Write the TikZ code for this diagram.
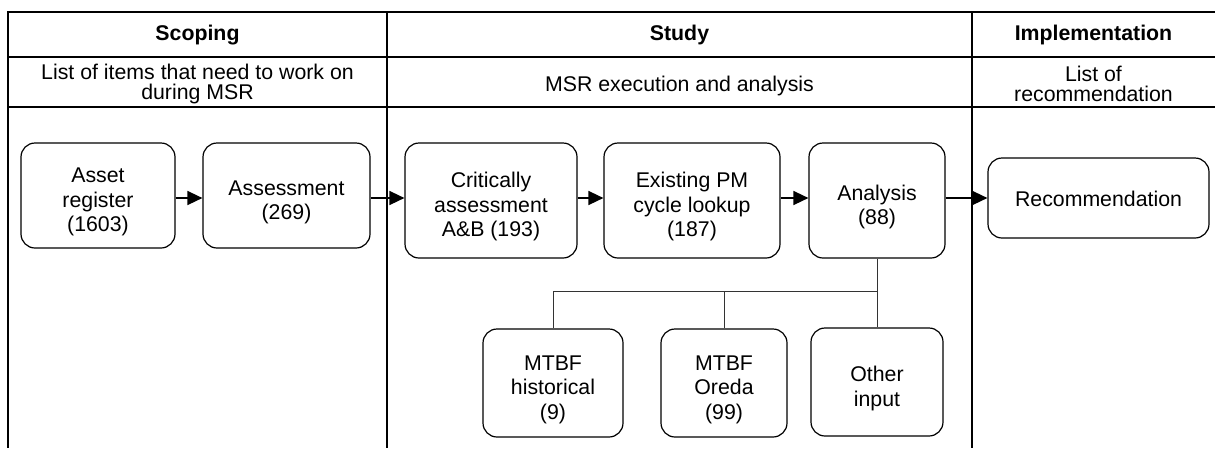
\documentclass[tikz,border=0pt]{standalone}
\usepackage{fontspec}
\setmainfont{Liberation Sans}
\usetikzlibrary{arrows.meta}
\newcommand\bxfont{\fontsize{21.3}{24.5}\selectfont}
\newcommand\hdfont{\fontsize{21.3}{19.5}\selectfont}
\newcommand\tstrut{\rule{0pt}{28pt}}
\newcommand\sstrut{\rule{0pt}{18pt}}
\begin{document}
\begin{tikzpicture}[x=1pt,y=-1pt,
  frame/.style={line width=2pt},
  box/.style={draw, line width=1.2pt, rounded corners=14pt, align=center, inner sep=2pt, font=\bxfont},
  head/.style={align=center, inner sep=0pt, font=\hdfont\bfseries},
  sub/.style={align=center, inner sep=0pt, font=\hdfont},
  arr/.style={line width=1.5pt, -{Triangle[length=15pt,width=14pt]}},
  conn/.style={line width=1pt, draw=black!80}]
\useasboundingbox (0,0) rectangle (1215,448);
% frame
\draw[frame] (1215,12) -- (8,12) -- (8,448);
\draw[frame] (8,57) -- (1215,57);
\draw[frame] (8,107) -- (1215,107);
\draw[frame] (387,12) -- (387,448);
\draw[frame] (972,12) -- (972,448);
% headers
\node[head] (h1) at (197.5,35) {Scoping};
\node[head] (h2) at (679.5,35) {Study};
\node[head] (h3) at (1093.5,35) {Implementation};
\node[sub] (s1) at (197.5,84) {List of items that need to work on\\during MSR};
\node[sub] (s2) at (679.5,86) {MSR execution and analysis};
\node[sub] (s3) at (1093.5,84) {List of\\recommendation};
% boxes
\node[box, minimum width=154pt, minimum height=105pt] (ar) at (98,195.5) {\tstrut Asset\\register\\(1603)};
\node[box, minimum width=167pt, minimum height=105pt] (as) at (286.5,195.5) {\tstrut Assessment\\(269)};
\node[box, minimum width=172pt, minimum height=115pt] (cr) at (491,200.5) {\tstrut Critically\\assessment\\A\&B (193)};
\node[box, minimum width=176pt, minimum height=115pt] (ex) at (692,200.5) {\tstrut Existing PM\\cycle lookup\\(187)};
\node[box, minimum width=136pt, minimum height=115pt] (an) at (877,200.5) {\tstrut Analysis\\(88)};
\node[box, minimum width=221pt, minimum height=80pt] (rec) at (1098.5,198) {\sstrut Recommendation};
\node[box, minimum width=140pt, minimum height=108pt] (mh) at (553,383) {\tstrut MTBF\\historical\\(9)};
\node[box, minimum width=126pt, minimum height=108pt] (mo) at (724,383) {\tstrut MTBF\\Oreda\\(99)};
\node[box, minimum width=132pt, minimum height=108pt] (oi) at (877,382) {\tstrut Other\\input};
% arrows
\coordinate (ay) at (0,198);
\draw[arr] (ar.east |- ay) -- (as.west |- ay);
\draw[arr] (as.east |- ay) -- (cr.west |- ay);
\draw[arr] (cr.east |- ay) -- (ex.west |- ay);
\draw[arr] (ex.east |- ay) -- (an.west |- ay);
\draw[arr] (an.east |- ay) -- (rec.west |- ay);
% tree connectors
\coordinate (bus) at (0,291);
\draw[conn] (an.south) -- (oi.north);
\draw[conn] (an.south |- bus) -| (mh.north);
\draw[conn] (an.south |- bus) -| (mo.north);
\end{tikzpicture}
\end{document}
